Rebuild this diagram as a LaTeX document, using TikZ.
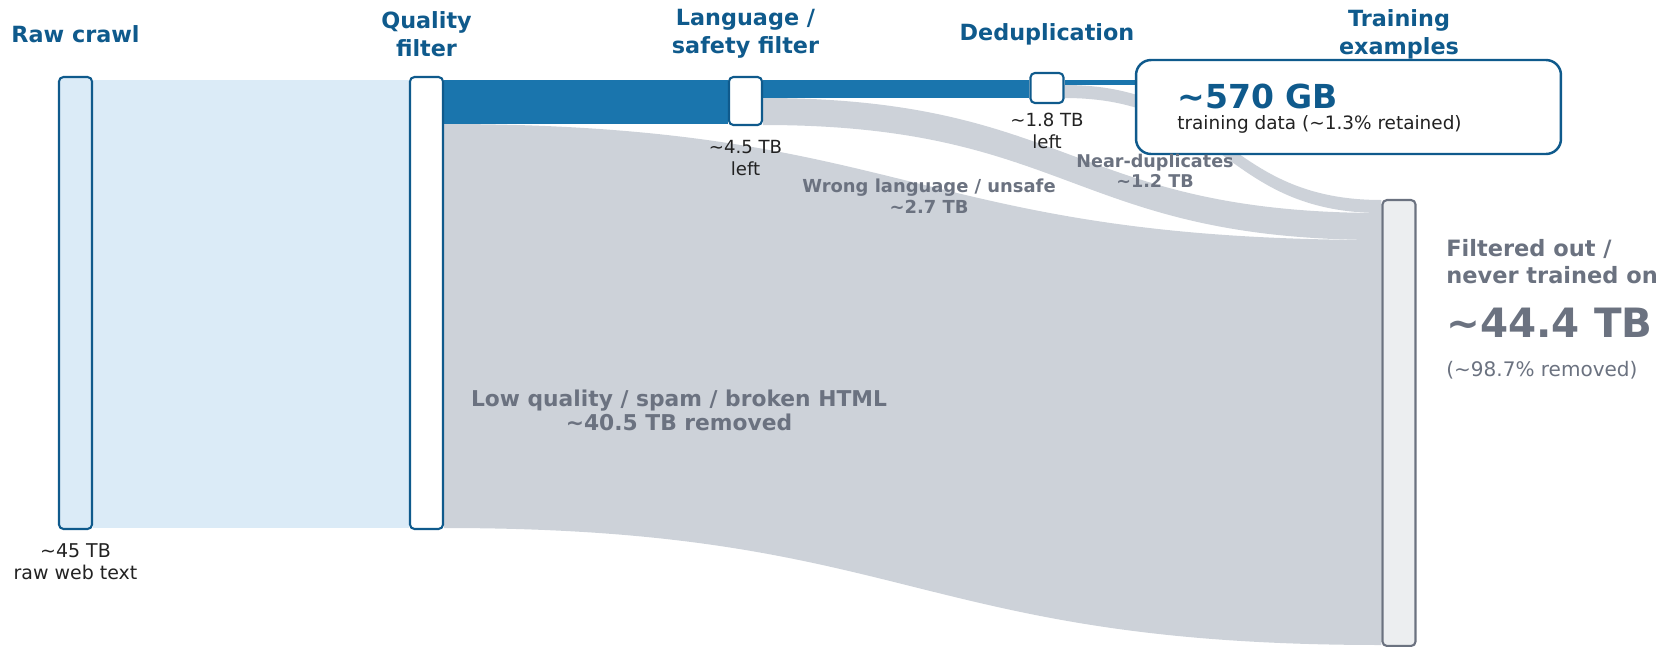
\documentclass[tikz,border=0pt]{standalone}
\usepackage{fontspec}
\setmainfont{DejaVu Sans}
\usepackage{xcolor}
\usepackage{tikz}
\usetikzlibrary{positioning, backgrounds}

\definecolor{stageblue}{HTML}{0F5A8C}
\definecolor{flowblue}{HTML}{1A75AD}
\definecolor{rawfill}{HTML}{DBEBF7}
\definecolor{lossgrey}{HTML}{CDD2D9}
\definecolor{mutedgrey}{HTML}{6B7280}
\definecolor{bargrey}{HTML}{ECEEF0}
\definecolor{textdark}{HTML}{222222}

\tikzstyle{stage} = [rectangle, draw=stageblue, line width=1.2pt, fill=white,
    rounded corners=2.5pt, minimum width=0.66cm, inner sep=0pt]
\tikzstyle{stagetitle} = [text=stageblue, align=center, inner sep=0pt,
    font=\fontsize{12.7}{16}\selectfont\bfseries]
\tikzstyle{amount} = [text=textdark, align=center, inner sep=0pt,
    font=\fontsize{10.3}{12.4}\selectfont]
\tikzstyle{losslabel} = [text=mutedgrey, align=center, inner sep=0pt]
\tikzstyle{rawflow} = [fill=rawfill]
\tikzstyle{keptflow} = [fill=flowblue]
\tikzstyle{lossflow} = [fill=lossgrey]
\tikzstyle{resultbox} = [rectangle, draw=stageblue, line width=1.4pt, fill=white,
    rounded corners=0.3cm, minimum width=8.5cm, minimum height=1.88cm]

\begin{document}
\begin{tikzpicture}[x=0.02cm, y=-0.02cm]
                \useasboundingbox (0,0) rectangle (1663,646);

                % Nodes
                \node [stage, fill=rawfill, minimum height=9.04cm] (raw) at (75.5,303) {};
                \node [stage, minimum height=9.04cm] (quality) at (426.5,303) {};
                \node [stage, minimum height=0.96cm] (language) at (745.5,101) {};
                \node [stage, minimum height=0.6cm, minimum width=0.66cm] (dedup) at (1047,88) {};
                \node [stage, draw=mutedgrey, fill=bargrey, minimum height=8.92cm] (filtered) at (1399,423) {};
                \node [resultbox] (training) at (1348.5,107) {};

                % Stage titles
                \node [stagetitle] (rawtitle) at (raw |- 0,34) {Raw crawl};
                \node [stagetitle] (qualitytitle) at (quality |- 0,34) {Quality\\filter};
                \node [stagetitle] (languagetitle) at (language |- 0,34) {Language /\\safety filter};
                \node [stagetitle] (deduptitle) at (dedup |- 0,34) {Deduplication};
                \node [stagetitle] (trainingtitle) at (filtered |- 0,34) {Training\\examples};

                % Amounts
                \node [amount, font=\fontsize{10.8}{12.7}\selectfont] (rawamount) at (raw |- 0,562) {\textasciitilde45 TB\\raw web text};
                \node [amount] (languageamount) at (language |- 0,158) {\textasciitilde4.5 TB\\left};
                \node [amount] (dedupamount) at (dedup |- 0,131) {\textasciitilde1.8 TB\\left};
                \node [anchor=west, inner sep=0pt, text=stageblue, font=\fontsize{18.8}{22}\selectfont\bfseries]
                    (trainingamount) at (1177,96) {\textasciitilde570 GB};
                \node [anchor=west, inner sep=0pt, text=textdark, font=\fontsize{10.5}{12}\selectfont]
                    (trainingnote) at (1177,124) {training data (\textasciitilde1.3\% retained)};

                % Loss labels
                \node [losslabel, font=\fontsize{12.4}{13.8}\selectfont\bfseries] (lowlabel) at (679,410)
                    {Low quality / spam / broken HTML\\\textasciitilde40.5 TB removed};
                \node [losslabel, font=\fontsize{10.2}{12}\selectfont\bfseries] (wronglabel) at (929,196)
                    {Wrong language / unsafe\\\textasciitilde2.7 TB};
                \node [losslabel, font=\fontsize{10}{11.6}\selectfont\bfseries] (duplabel) at (1155,171)
                    {Near-duplicates\\\textasciitilde1.2 TB};

                % Filtered out summary
                \node [losslabel, anchor=west, align=left, font=\fontsize{12.8}{15.4}\selectfont\bfseries]
                    (filteredtitle) at (1446,262) {Filtered out /\\never trained on};
                \node [losslabel, anchor=west, font=\fontsize{23}{26}\selectfont\bfseries]
                    (filteredamount) at (1446,323) {\textasciitilde44.4 TB};
                \node [losslabel, anchor=west, font=\fontsize{11.4}{13}\selectfont]
                    (filterednote) at (1446,370) {(\textasciitilde98.7\% removed)};

                % Connections
                \begin{scope}[on background layer]
                \fill [rawflow] (raw.east |- 0,80) rectangle (quality.west |- 0,528);
                \fill [keptflow] (quality.east |- 0,80) rectangle (language.west |- 0,124);
                \fill [keptflow] (language.east |- 0,80) rectangle (dedup.west |- 0,98);
                \fill [keptflow] (dedup.east |- 0,80) rectangle (training.west |- 0,85);

                \fill [lossflow] (quality.east |- 0,124) .. controls (912,124) and (912,240) .. (filtered.west |- 0,240)
                    -- (filtered.west |- 0,645) .. controls (912,645) and (912,528) .. (quality.east |- 0,528) -- cycle;
                \fill [lossflow] (language.east |- 0,98) .. controls (1072,98) and (1072,213) .. (filtered.west |- 0,213)
                    -- (filtered.west |- 0,240) .. controls (1072,240) and (1072,125) .. (language.east |- 0,125) -- cycle;
                \fill [lossflow] (dedup.east |- 0,85) .. controls (1223,85) and (1223,200) .. (filtered.west |- 0,200)
                    -- (filtered.west |- 0,213) .. controls (1223,213) and (1223,98) .. (dedup.east |- 0,98) -- cycle;
                \end{scope}

            \end{tikzpicture}
\end{document}
